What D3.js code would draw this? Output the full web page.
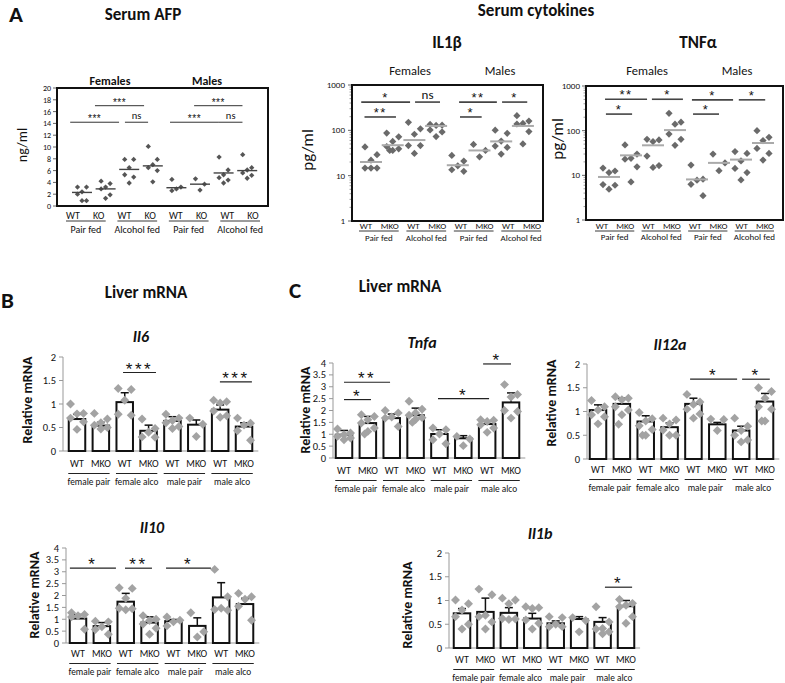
<!DOCTYPE html>
<html><head><meta charset="utf-8">
<script src="https://cdn.jsdelivr.net/npm/d3@7"></script>
<style>
body{margin:0;background:#fff}
svg{display:block}
text{font-family:Carlito,Lato,"Liberation Sans",sans-serif;fill:#111}
text.star{font-family:"Liberation Sans",Arial,sans-serif}
</style>
</head><body>
<svg id="c" width="785" height="683"></svg>
<script>
// ================= DATA =================
const genoAFP = ["WT","KO","WT","KO","WT","KO","WT","KO"];
const genoMKO = ["WT","MKO","WT","MKO","WT","MKO","WT","MKO"];
const feedLabels = ["Pair fed","Alcohol fed","Pair fed","Alcohol fed"];
const sexLabels = ["Females","Males"];
const mrnaGroups = ["female pair","female alco","male pair","male alco"];

const afpTicks = [0,2,4,6,8,10,12,14,16,18,20];
const logTicks = [1,10,100,1000];
const mrnaTicks2 = [0,0.5,1,1.5,2];
const mrnaTicks4 = [0,0.5,1,1.5,2,2.5,3,3.5,4];

// Serum AFP (ng/ml)
const afpPoints = [
  [3.2,3.2,2.4,2.0,0.9,0.9],
  [4.2,3.8,3.2,2.9,1.9,1.3],
  [7.9,7.9,6.5,5.3,4.9,3.9],
  [10.1,7.9,7.0,6.5,6.0,4.1],
  [4.5,3.2,2.9,2.6],
  [4.6,3.7,2.7],
  [8.3,6.1,5.3,4.8,4.4,3.9],
  [8.7,6.5,6.1,5.6,5.2,4.7]
];
const afpMedians = [2.3,2.9,6.2,6.8,3.1,3.7,5.6,6.0];
const afpSig = [
  {from:-0.5,to:1.57,at:14.2,label:"***"},
  {from:0.55,to:2.63,at:17.0,label:"***"},
  {from:1.82,to:2.8,at:14.2,label:"ns"},
  {from:3.73,to:5.8,at:14.2,label:"***"},
  {from:4.75,to:6.8,at:17.0,label:"***"},
  {from:5.8,to:6.8,at:14.2,label:"ns"}
];

// Serum IL1beta (pg/ml)
const il1bSerumPoints = [
  [43,29,22,14.7,14.7,14.7],
  [87,72,57,44,39,36,36],
  [150,108,82,46,46,31],
  [135,130,128,102,92,73],
  [28,21,16.5,13.5,12.5],
  [49,36,26],
  [101,86,58,45,42,30],
  [210,160,142,138,94,50]
];
const il1bSerumMedians = [20,47,61,125,17,36,57,125];
const il1bSerumSig = [
  {from:-0.45,to:1.8,at:420,label:"*"},
  {from:-0.3,to:1.15,at:197,label:"**"},
  {from:2.03,to:3.18,at:420,label:"ns"},
  {from:4.06,to:5.8,at:420,label:"**"},
  {from:4.1,to:5.1,at:197,label:"*"},
  {from:6.04,to:7.2,at:420,label:"*"}
];

// Serum TNFalpha (pg/ml)
const tnfSerumPoints = [
  [14.5,12.5,11.5,6.2,6.0,4.9],
  [48,30,24,23,15.5,7.1],
  [64,62,57,27,16.5,15],
  [245,155,140,84,64,47],
  [17,8.2,7.8,6.3,3.5],
  [30,19,12.7],
  [34,31,21,14.3,11.5,7.9],
  [100,71,60,40,31,22]
];
const tnfSerumMedians = [9.2,28,47,103,8.1,19,22.5,53];
const tnfSerumSig = [
  {from:-0.18,to:1.73,at:505,label:"**"},
  {from:-0.14,to:1.05,at:235,label:"*"},
  {from:1.95,to:3.36,at:505,label:"*"},
  {from:3.77,to:5.64,at:490,label:"*"},
  {from:3.82,to:5.0,at:235,label:"*"},
  {from:5.9,to:7.1,at:490,label:"*"}
];

// Liver mRNA: Il6
const il6Mean = [0.68,0.54,1.04,0.43,0.64,0.56,0.88,0.52];
const il6Sem  = [0.10,0.07,0.20,0.12,0.09,0.10,0.10,0.08];
const il6Points = [
  [1.0,0.8,0.79,0.7,0.62,0.46],
  [0.8,0.68,0.6,0.55,0.5,0.47],
  [1.33,1.31,1.08,0.78,0.76],
  [0.68,0.48,0.4,0.3,0.29],
  [0.78,0.7,0.65,0.6,0.52,0.48],
  [0.7,0.57,0.31],
  [1.08,1.05,1.02,0.85,0.75,0.72],
  [0.7,0.59,0.55,0.43,0.23]
];
const il6Sig = [
  {from:1.93,to:3.31,at:1.67,label:"***"},
  {from:5.99,to:7.33,at:1.47,label:"***"}
];

// Il10
const il10Mean = [1.03,0.71,1.74,0.86,0.92,0.72,1.92,1.64];
const il10Sem  = [0.17,0.15,0.35,0.24,0.07,0.34,0.62,0.24];
const il10Points = [
  [1.27,1.2,1.15,1.1,0.58],
  [0.92,0.89,0.68,0.57,0.37],
  [2.33,2.3,1.88,1.46,1.44,1.4],
  [1.15,1.0,0.95,0.8,0.62,0.37],
  [1.1,0.96,0.89,0.72],
  [1.27,0.47,0.25],
  [3.1,1.95,1.46,1.41,1.38],
  [2.09,1.95,1.84,1.55,0.96]
];
const il10Sig = [
  {from:-0.34,to:1.59,at:3.15,label:"*"},
  {from:1.97,to:3.1,at:3.15,label:"**"},
  {from:3.69,to:5.57,at:3.15,label:"*"}
];

// Tnfa
const tnfaMean = [0.98,1.47,1.68,1.8,1.01,0.83,1.43,2.34];
const tnfaSem  = [0.18,0.28,0.17,0.3,0.18,0.11,0.11,0.4];
const tnfaPoints = [
  [1.22,1.05,0.98,0.91,0.84,0.77],
  [1.82,1.75,1.61,1.47,1.26,1.12,1.01],
  [2.0,1.9,1.73,1.68,1.33],
  [2.39,2.05,1.9,1.8,1.7,1.62,1.5],
  [1.26,1.19,1.01,0.77,0.6],
  [0.91,0.8,0.52],
  [1.61,1.59,1.54,1.4,1.26,1.08],
  [3.09,2.67,2.57,2.0,1.96,1.68]
];
const tnfaSig = [
  {from:0,to:1.93,at:3.19,label:"**"},
  {from:0,to:1.13,at:2.46,label:"*"},
  {from:3.94,to:6.08,at:2.5,label:"*"},
  {from:5.83,to:7.0,at:3.96,label:"*"}
];

// Il12a
const il12aMean = [1.03,1.16,0.79,0.67,1.16,0.73,0.6,1.21];
const il12aSem  = [0.11,0.12,0.12,0.09,0.12,0.04,0.09,0.17];
const il12aPoints = [
  [1.23,1.1,1.03,0.93,0.89,0.74],
  [1.31,1.28,1.25,1.1,1.03,0.93,0.73],
  [0.98,0.85,0.8,0.7,0.62,0.5,0.5],
  [0.86,0.82,0.74,0.61,0.5,0.5],
  [1.36,1.2,1.15,1.05,0.95,0.86],
  [0.84,0.83,0.6],
  [0.86,0.69,0.6,0.5,0.4,0.36],
  [1.5,1.42,1.28,1.1,1.05,0.8,0.8]
];
const il12aSig = [
  {from:3.86,to:5.83,at:1.68,label:"*"},
  {from:6.04,to:7.2,at:1.68,label:"*"}
];

// Il1b
const il1bMean = [0.73,0.76,0.74,0.62,0.52,0.61,0.55,0.88];
const il1bSem  = [0.10,0.29,0.11,0.11,0.05,0.05,0.09,0.12];
const il1bPoints = [
  [1.01,0.93,0.8,0.66,0.5,0.4],
  [1.24,1.12,0.69,0.66,0.55,0.4],
  [1.05,1.01,0.93,0.62,0.61,0.6],
  [0.87,0.85,0.83,0.59,0.52,0.4],
  [0.66,0.64,0.5,0.45,0.45],
  [0.64,0.58,0.34],
  [0.87,0.55,0.41,0.4,0.34,0.3],
  [1.02,0.94,0.9,0.87,0.66,0.52]
];
const il1bSig = [
  {from:6.1,to:7.26,at:1.28,label:"*"}
];

// ================= DRAWING =================
const svg = d3.select("#c");
const jitterPattern = [-1,1,0,-1,1,0,-0.5,0.5];

function txt(g,x,y,s,opt={}){
  const t = g.append("text").attr("x",x).attr("y",y).text(s)
    .attr("text-anchor",opt.anchor||"middle")
    .attr("font-size",opt.size||11)
    .attr("font-weight",opt.weight||"normal");
  if(opt.cls) t.attr("class",opt.cls);
  if(opt.style) t.attr("font-style",opt.style);
  if(opt.rotate) t.attr("transform",`rotate(-90,${x},${y})`);
  if(opt.fill) t.style("fill",opt.fill);
  if(opt.ls) t.attr("letter-spacing",opt.ls);
  return t;
}

function diamond(g,cx,cy,size,color){
  g.append("path").attr("d",d3.symbol(d3.symbolSquare,size)())
   .attr("transform",`translate(${cx},${cy}) rotate(45)`)
   .attr("fill",color);
}

function scatterPanel(c){
  const g = svg.append("g");
  const x = d3.scaleLinear().domain([0,7]).range([c.x0,c.x0+7*c.step]);
  const lx = d3.scaleLinear().domain([0,7]).range(c.labRange);
  const y = c.log ? d3.scaleLog().domain([1,1000]).range([c.bottom,c.top])
                  : d3.scaleLinear().domain([0,20]).range([c.bottom,c.top]);
  const ax = g.append("g").attr("transform",`translate(${c.left},0)`);
  if(c.log){
    const minor = y.ticks().filter(v=>!logTicks.includes(v));
    ax.selectAll("line.mn").data(minor).join("line")
      .attr("x1",-2.5).attr("x2",0).attr("y1",d=>y(d)).attr("y2",d=>y(d))
      .attr("stroke","#888").attr("stroke-width",0.8);
  }
  ax.selectAll("line.mj").data(c.ticks).join("line")
    .attr("x1",-4).attr("x2",0).attr("y1",d=>y(d)).attr("y2",d=>y(d))
    .attr("stroke","#666").attr("stroke-width",1);
  c.ticks.forEach(v=>txt(ax,-c.tickGap,y(v)+3,String(v),{anchor:"end",size:c.tickSize}));
  g.append("rect").attr("x",c.left).attr("y",c.top)
   .attr("width",c.right-c.left).attr("height",c.bottom-c.top)
   .attr("fill","none").attr("stroke","#111").attr("stroke-width",2);
  c.points.forEach((arr,i)=>{
    arr.forEach((v,j)=>diamond(g,x(i)+jitterPattern[j%8]*c.jit,y(v),c.dsize,c.dcolor));
  });
  c.medians.forEach((m,i)=>{
    g.append("line").attr("x1",x(i)-c.mw).attr("x2",x(i)+c.mw)
     .attr("y1",y(m)).attr("y2",y(m)).attr("stroke",c.mcolor).attr("stroke-width",c.mstroke);
  });
  c.sig.forEach(s=>{
    const yy = y(s.at);
    g.append("line").attr("x1",x(s.from)).attr("x2",x(s.to)).attr("y1",yy).attr("y2",yy)
     .attr("stroke",c.bcolor).attr("stroke-width",c.bstroke);
    const star = s.label!=="ns";
    txt(g,(x(s.from)+x(s.to))/2, star? yy+c.starDy : yy-3, s.label,
        {size: star? c.starSize : c.nsSize, ls: star? c.starLs:null, cls: star?"star":null});
  });
  for(let k=0;k<4;k++){
    const a = lx(2*k), b = lx(2*k+1);
    txt(g,a,c.labY,c.geno[2*k],{size:c.labSize});
    txt(g,b,c.labY,c.geno[2*k+1],{size:c.labSize});
    const u0 = a-c.uL, u1 = b+c.uR;
    g.append("line").attr("x1",u0).attr("x2",u1).attr("y1",c.labY+2).attr("y2",c.labY+2)
     .attr("stroke","#222").attr("stroke-width",0.9);
    txt(g,(u0+u1)/2,c.feedY,feedLabels[k],{size:c.labSize});
  }
  c.sexX.forEach((sx,i)=>txt(g,sx,c.sexY,sexLabels[i],{size:c.sexSize,weight:c.sexWeight}));
  if(c.title) txt(g,c.title[0],c.title[1],c.title[2],{size:17,weight:"bold"});
  txt(g,c.ylab[0],c.ylab[1],c.ylab[2],{size:c.ylab[3],rotate:true});
}

function barPanel(c){
  const g = svg.append("g");
  const x = d3.scaleLinear().domain([0,7]).range([c.x0,c.x0+7*c.step]);
  const y = d3.scaleLinear().domain([0,c.ymax]).range([c.bottom,c.top]);
  g.append("line").attr("x1",c.axisX).attr("x2",c.axisX).attr("y1",y(0)).attr("y2",y(c.ymax))
   .attr("stroke","#999").attr("stroke-width",1);
  c.ticks.forEach(v=>{
    g.append("line").attr("x1",c.axisX-4).attr("x2",c.axisX).attr("y1",y(v)).attr("y2",y(v))
     .attr("stroke","#999").attr("stroke-width",1);
    txt(g,c.axisX-7,y(v)+3.5,String(v),{anchor:"end",size:10.5});
  });
  g.append("line").attr("x1",c.axisX).attr("x2",x(7)+c.step*0.6).attr("y1",y(0)).attr("y2",y(0))
   .attr("stroke","#999").attr("stroke-width",1);
  const bw = 16.5;
  c.mean.forEach((m,i)=>{
    const top = y(m+c.sem[i]);
    g.append("line").attr("x1",x(i)).attr("x2",x(i)).attr("y1",y(m)).attr("y2",top)
     .attr("stroke","#111").attr("stroke-width",1.5);
    g.append("line").attr("x1",x(i)-4).attr("x2",x(i)+4).attr("y1",top).attr("y2",top)
     .attr("stroke","#111").attr("stroke-width",1.5);
  });
  g.selectAll("rect.bar").data(c.mean).join("rect")
   .attr("x",(d,i)=>x(i)-bw/2).attr("width",bw)
   .attr("y",d=>y(d)).attr("height",d=>y(0)-y(d))
   .attr("fill","#fff").attr("stroke","#111").attr("stroke-width",2);
  c.points.forEach((arr,i)=>{
    arr.forEach((v,j)=>diamond(g,x(i)+jitterPattern[j%8]*6.5,y(v),40,"#a3a3a3"));
  });
  c.sig.forEach(s=>{
    const yy = y(s.at);
    g.append("line").attr("x1",x(s.from)).attr("x2",x(s.to)).attr("y1",yy).attr("y2",yy)
     .attr("stroke","#222").attr("stroke-width",1.2);
    txt(g,(x(s.from)+x(s.to))/2,yy+2,s.label,{size:17,ls:2.5,cls:"star"});
  });
  for(let k=0;k<4;k++){
    const a = x(2*k), b = x(2*k+1);
    txt(g,a,c.labY,genoMKO[2*k],{size:10});
    txt(g,b,c.labY,genoMKO[2*k+1],{size:10});
    g.append("line").attr("x1",a-bw/2-0.5).attr("x2",b+bw/2+0.5)
     .attr("y1",c.labY+6.5).attr("y2",c.labY+6.5).attr("stroke","#222").attr("stroke-width",1);
    txt(g,(a+b)/2,c.labY+18,mrnaGroups[k],{size:9.3});
  }
  txt(g,c.title[0],c.title[1],c.title[2],{size:16,weight:"bold",style:"italic"});
  txt(g,c.ylabX,c.ylabY,"Relative mRNA",{size:14,weight:"bold",rotate:true});
}

// ---- panel letters & headings ----
const head = svg.append("g");
txt(head,9,22,"A",{size:23,weight:"bold",anchor:"start"});
txt(head,143,20,"Serum AFP",{size:17,weight:"bold"});
txt(head,536,16,"Serum cytokines",{size:17,weight:"bold"});
txt(head,1,308,"B",{size:23,weight:"bold",anchor:"start"});
txt(head,146,298,"Liver mRNA",{size:17,weight:"bold"});
txt(head,289,298,"C",{size:23,weight:"bold",anchor:"start"});
txt(head,400,292,"Liver mRNA",{size:17,weight:"bold"});

// ---- AFP ----
scatterPanel({
  points:afpPoints, medians:afpMedians, sig:afpSig, geno:genoAFP, log:false,
  left:57, right:268, top:88, bottom:206, x0:82, step:23.6, labRange:[73,253],
  ticks:afpTicks, tickGap:6, tickSize:8,
  jit:4.5, dsize:14, dcolor:"#555", mw:10, mcolor:"#444", mstroke:1.4,
  bcolor:"#333", bstroke:1, starDy:0, starSize:10, starLs:0.5, nsSize:10.5,
  labY:219, feedY:233, labSize:10, uL:7, uR:7,
  sexX:[110,207], sexY:85, sexSize:12, sexWeight:"bold",
  ylab:[27,145,"ng/ml",14]
});

// ---- IL1b serum ----
scatterPanel({
  points:il1bSerumPoints, medians:il1bSerumMedians, sig:il1bSerumSig, geno:genoMKO, log:true,
  left:352, right:543, top:85, bottom:221, x0:371, step:21.7, labRange:[366,532],
  ticks:logTicks, tickGap:7, tickSize:9,
  jit:6, dsize:26, dcolor:"#6a6a6a", mw:11, mcolor:"#aaa", mstroke:2,
  bcolor:"#444", bstroke:1.6, starDy:0, starSize:13, starLs:1.5, nsSize:13,
  labY:229, feedY:241, labSize:9, uL:7, uR:9,
  sexX:[410,500], sexY:75, sexSize:12.5, sexWeight:"normal",
  title:[447,48,"IL1β"], ylab:[313,150,"pg/ml",17]
});

// ---- TNFa serum ----
scatterPanel({
  points:tnfSerumPoints, medians:tnfSerumMedians, sig:tnfSerumSig, geno:genoMKO, log:true,
  left:586, right:783, top:86, bottom:220, x0:609, step:22, labRange:[602,765],
  ticks:logTicks, tickGap:6, tickSize:9,
  jit:6, dsize:26, dcolor:"#6a6a6a", mw:11, mcolor:"#aaa", mstroke:2,
  bcolor:"#444", bstroke:1.6, starDy:0, starSize:13, starLs:1.5, nsSize:13,
  labY:229, feedY:240, labSize:9, uL:7, uR:9,
  sexX:[647,737], sexY:75, sexSize:12.5, sexWeight:"normal",
  title:[698,48,"TNFα"], ylab:[563,139,"pg/ml",17]
});

// ---- bar charts ----
barPanel({mean:il6Mean, sem:il6Sem, points:il6Points, sig:il6Sig, ymax:2, ticks:mrnaTicks2,
  axisX:63, x0:77, step:23.86, top:357, bottom:451, labY:467,
  title:[141,342,"Il6"], ylabX:32, ylabY:400});
barPanel({mean:il10Mean, sem:il10Sem, points:il10Points, sig:il10Sig, ymax:4, ticks:mrnaTicks4,
  axisX:66, x0:78, step:23.86, top:548, bottom:643, labY:657,
  title:[152,533,"Il10"], ylabX:39, ylabY:595});
barPanel({mean:tnfaMean, sem:tnfaSem, points:tnfaPoints, sig:tnfaSig, ymax:4, ticks:mrnaTicks4,
  axisX:333, x0:344, step:23.86, top:363, bottom:458, labY:474,
  title:[422,348,"Tnfa"], ylabX:310, ylabY:410});
barPanel({mean:il12aMean, sem:il12aSem, points:il12aPoints, sig:il12aSig, ymax:2, ticks:mrnaTicks2,
  axisX:587, x0:598, step:23.86, top:364, bottom:459, labY:473,
  title:[670,350,"Il12a"], ylabX:556, ylabY:403});
barPanel({mean:il1bMean, sem:il1bSem, points:il1bPoints, sig:il1bSig, ymax:2, ticks:mrnaTicks2,
  axisX:449, x0:462, step:23.43, top:553, bottom:648, labY:663,
  title:[540,539,"Il1b"], ylabX:412, ylabY:605});
</script>
</body></html>
